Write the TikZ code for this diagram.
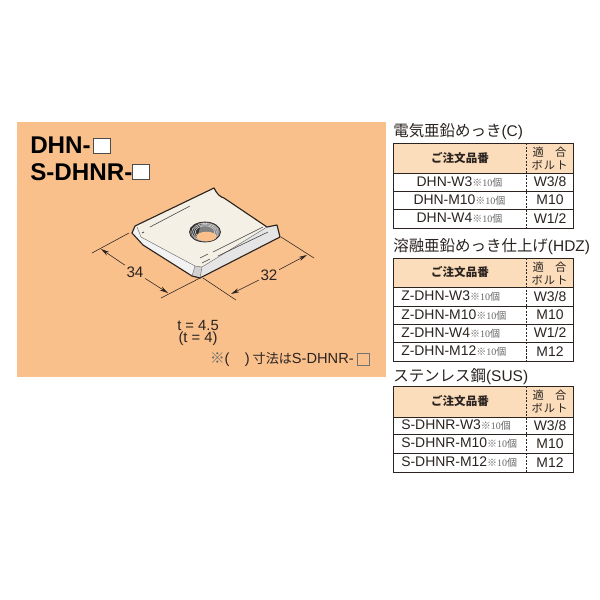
\documentclass[tikz,border=0pt]{standalone}
\usepackage{fontspec}
\setmainfont{Liberation Sans}
\newfontfamily\cjk{Noto Sans CJK JP}
\newfontfamily\tenfont{Liberation Serif}
\usetikzlibrary{arrows.meta}
\definecolor{panelcol}{HTML}{F9C08C}
\definecolor{headcol}{HTML}{FBDDBB}
\definecolor{inkcol}{HTML}{2A2320}
\definecolor{platecol}{HTML}{F4F0E6}
\newcommand{\tenpcs}{{\fontsize{7.1pt}{8pt}\selectfont\color{black!60}{\cjk ※}\tenfont 10{\cjk 個}}}
\tikzset{
  dimline/.style={line width=0.4pt,color=inkcol},
  dimarrow/.style={line width=0.4pt,color=inkcol,arrows={-{Stealth[length=6pt,width=3pt]}}},
  rowtext/.style={font=\fontsize{9.9pt}{10pt}\selectfont,color=inkcol,inner sep=0pt},
  headtext/.style={font=\cjk\fontsize{8pt}{9pt}\selectfont,color=inkcol,inner sep=0pt},
  titletext/.style={font=\fontsize{11pt}{12pt}\selectfont,color=inkcol,inner sep=0pt,anchor=west},
  bigtext/.style={font=\bfseries\fontsize{17.2pt}{18pt}\selectfont,color=black,inner sep=0pt,anchor=west},
  blank/.style={draw=black!70,fill=white,line width=0.5pt,minimum width=12pt,minimum height=10.5pt,inner sep=0pt},
}
\begin{document}
\begin{tikzpicture}[x=0.025cm,y=-0.025cm]
\useasboundingbox[fill=white] (0,0) rectangle (600,600);
\fill[panelcol] (17,122) rectangle (386,377);
% titles
\node[bigtext] (title1) at (30,145) {DHN-};
\node[bigtext] (title2) at (30,172) {S-DHNR-};
\node[blank] (box1) at (101.5,145.5) {};
\node[blank] (box2) at (140.5,172) {};
% plate
\fill[platecol] (135,226) -- (214,188) .. controls (217,194) and (220,197) .. (224,198)
  -- (267,227) -- (277,225) -- (280,237) -- (200,278) -- (192,276) -- (143,245) -- (132,233) -- cycle;
\fill[black!18] (195,266) -- (202,267) -- (200,278) -- (192,276) -- cycle;
\fill[black!10] (202,267) -- (267,227) -- (277,225) -- (280,237) -- (200,278) -- cycle;
\fill[black!5] (132,233) -- (137,227) -- (141,237) -- (195,266) -- (192,276) -- (143,245) -- cycle;
\draw[line width=0.8pt,inkcol,line join=round]
  (135,226) -- (214,188) .. controls (217,194) and (220,197) .. (224,198)
  -- (267,227) -- (277,225) -- (280,237) -- (200,278) -- (192,276) -- (143,245) -- (132,233) -- cycle;
\draw[line width=0.3pt,black!60] (137,227) -- (141,237) -- (195,266) -- (202,267) -- (267,227);
\draw[line width=0.3pt,black!60] (195,266) -- (192,276);
\draw[line width=0.3pt,black!60] (202,267) -- (200,278);
\draw[line width=0.4pt,black!75] (150,227) -- (190,206);
\draw[line width=0.6pt,black!75] (142,233) -- (144,232);
\draw[line width=0.4pt,black!75] (213,252) -- (263,227);
\draw[line width=0.4pt,black!75] (218,256) -- (268,232);
\draw[line width=0.4pt,black!75] (200,258) -- (208,254);
\draw[line width=0.4pt,black!75] (202,263) -- (210,259);
% hole
\fill[black!50,draw=inkcol,line width=0.5pt] (205,232) ellipse (15.5 and 10);
\fill[black!80] (190,228) -- (196,224) -- (201,224) -- (197,238) -- (192,236) -- cycle;
\foreach \r in {0.62,0.74,0.86} {
  \draw[black!15,line width=0.4pt] (205,232) ellipse ({15.5*\r} and {10*\r});
}
\fill[panelcol] (206.5,236.5) ellipse (10 and 4.8);
% dimensions
\coordinate (c34a) at (129,233);
\coordinate (c34b) at (92,253);
\coordinate (c34c) at (200,278);
\coordinate (c34d) at (161,298);
\coordinate (c32a) at (203,278);
\coordinate (c32b) at (236,300);
\coordinate (c32c) at (281,237);
\coordinate (c32d) at (314,258);
\coordinate (a34a) at (101,249);
\coordinate (a34b) at (168,293);
\coordinate (a32a) at (231,294);
\coordinate (a32b) at (307,255);
\node[font=\fontsize{10.8pt}{12pt}\selectfont,color=inkcol,inner sep=1pt] (lbl34) at (135,272) {34};
\node[font=\fontsize{10.8pt}{12pt}\selectfont,color=inkcol,inner sep=1pt] (lbl32) at (269,275) {32};
\draw[dimline] (c34a) -- (c34b);
\draw[dimline] (c34c) -- (c34d);
\draw[dimline] (c32a) -- (c32b);
\draw[dimline] (c32c) -- (c32d);
\draw[dimarrow] (lbl34) -- (a34a);
\draw[dimarrow] (lbl34) -- (a34b);
\draw[dimarrow] (lbl32) -- (a32a);
\draw[dimarrow] (lbl32) -- (a32b);
% thickness and note
\node[font=\fontsize{10.5pt}{11pt}\selectfont,color=inkcol,inner sep=0pt] (thick1) at (198,325) {t = 4.5};
\node[font=\fontsize{10.5pt}{11pt}\selectfont,color=inkcol,inner sep=0pt] (thick2) at (198,339) {(t = 4)};
\node[font=\fontsize{10.4pt}{11pt}\selectfont,color=inkcol,inner sep=0pt,anchor=east] (note) at (354,360)
  {{\cjk\color{black!60}※}(\hspace{1.05em})\hspace{0.2em}{\cjk\fontsize{9.3pt}{10pt}\selectfont 寸法は}S-DHNR-};
\node[blank,fill=panelcol,draw=black!55,minimum width=8.5pt,minimum height=8.5pt] (box3) at (363,359) {};
% tables
\node[titletext] (head1) at (393,132) {{\cjk 電気亜鉛めっき}(C)};
\node[titletext] (head2) at (393,247) {{\cjk 溶融亜鉛めっき仕上げ}(HDZ)};
\node[titletext] (head3) at (393,377) {{\cjk ステンレス鋼}(SUS)};
\foreach \ytop/\yhead/\ybot/\tab in {143/173/228/a,258/287/361/b,386/417/472/c} {
  \fill[headcol] (393,\ytop) rectangle (573,\yhead);
  \draw[line width=0.6pt,inkcol] (393,\ytop) rectangle (573,\ybot);
  \draw[line width=0.6pt,inkcol] (393,\yhead) -- (573,\yhead);
  \draw[line width=0.5pt,inkcol,dash pattern=on 1.5pt off 1pt] (526,\ytop) -- (526,\ybot);
  \node[headtext,font=\cjk\bfseries\fontsize{8.2pt}{9pt}\selectfont] (order\tab) at (460,{\ytop+0.5*(\yhead-\ytop)}) {ご注文品番};
  \node[headtext] (fit\tab) at (549.5,{\ytop+9}) {適\hspace{1em}合};
  \node[headtext] (bolt\tab) at (549.5,{\ytop+22}) {ボ\hspace{0.1em}ル\hspace{0.1em}ト};
}
\foreach \ya/\yb/\name/\bolt [count=\i] in {173/191/DHN-W3/W3\slash 8,191/209/DHN-M10/M10,209/228/DHN-W4/W1\slash 2} {
  \draw[line width=0.6pt,inkcol] (393,\yb) -- (573,\yb);
  \node[rowtext] (arow\i) at (459.5,{0.5*(\ya+\yb)}) {\name\tenpcs};
  \node[rowtext] (abolt\i) at (550,{0.5*(\ya+\yb)}) {\bolt};
}
\foreach \ya/\yb/\name/\bolt [count=\i] in {287/306/Z-DHN-W3/W3\slash 8,306/324/Z-DHN-M10/M10,324/342/Z-DHN-W4/W1\slash 2,342/361/Z-DHN-M12/M12} {
  \draw[line width=0.6pt,inkcol] (393,\yb) -- (573,\yb);
  \node[rowtext,anchor=west] (brow\i) at (401,{0.5*(\ya+\yb)}) {\name\tenpcs};
  \node[rowtext] (bbolt\i) at (550,{0.5*(\ya+\yb)}) {\bolt};
}
\foreach \ya/\yb/\name/\bolt [count=\i] in {417/434/S-DHNR-W3/W3\slash 8,434/453/S-DHNR-M10/M10,453/472/S-DHNR-M12/M12} {
  \draw[line width=0.6pt,inkcol] (393,\yb) -- (573,\yb);
  \node[rowtext,anchor=west] (crow\i) at (401,{0.5*(\ya+\yb)}) {\name\tenpcs};
  \node[rowtext] (cbolt\i) at (550,{0.5*(\ya+\yb)}) {\bolt};
}
\end{tikzpicture}
\end{document}
